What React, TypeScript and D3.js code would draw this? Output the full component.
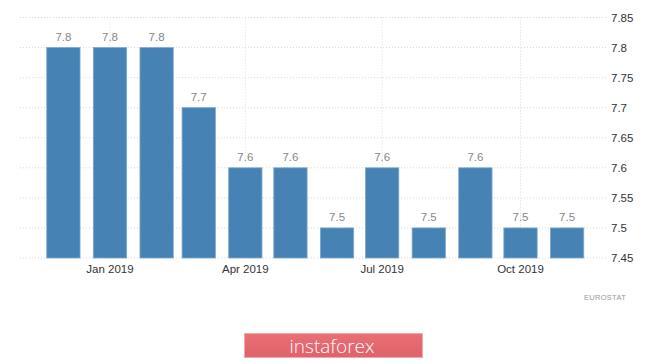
import React from "react";
import * as d3 from "d3";

const months: string[] = ["2018-12-01","2019-01-01","2019-02-01","2019-03-01","2019-04-01","2019-05-01","2019-06-01","2019-07-01","2019-08-01","2019-09-01","2019-10-01","2019-11-01"];
const values: number[] = [7.8, 7.8, 7.8, 7.7, 7.6, 7.6, 7.5, 7.6, 7.5, 7.6, 7.5, 7.5];
const yTicks: number[] = [7.45, 7.5, 7.55, 7.6, 7.65, 7.7, 7.75, 7.8, 7.85];
const xTickDates: string[] = ["2019-01-01", "2019-04-01", "2019-07-01", "2019-10-01"];
const xTickLabels: string[] = ["Jan 2019", "Apr 2019", "Jul 2019", "Oct 2019"];
const source = "EUROSTAT";
const brand = "instaforex";

const parse = (s: string) => {
  const [y, m, d] = s.split("-").map(Number);
  return new Date(y, m - 1, d);
};

export default function App() {
  const W = 665, H = 364;
  const plotLeft = 20, plotRight = 607;
  const x = d3.scaleTime()
    .domain([parse("2019-01-01"), parse("2019-10-01")])
    .range([110, 520.5]);
  const y = d3.scaleLinear().domain([7.45, 7.85]).range([258, 17.5]);
  const barW = 33.3;
  const font = "'Liberation Sans', Arial, sans-serif";

  return (
    <svg width={W} height={H} style={{ position: "absolute", left: 0, top: 0, background: "#fff" }} fontFamily={font}>
      <rect width={W} height={H} fill="#fff" />
      {yTicks.map((t) => (
        <g key={t}>
          <line x1={plotLeft} x2={plotRight} y1={y(t)} y2={y(t)} stroke="#d8d8d8" strokeWidth={1} strokeDasharray="1,2" />
          <text x={611} y={y(t)} dy="0.35em" fontSize={11.5} fill="#333">{String(t)}</text>
        </g>
      ))}
      {xTickDates.map((d, i) => (
        <g key={d}>
          <line x1={x(parse(d))} x2={x(parse(d))} y1={y(7.85)} y2={y(7.45)} stroke="#d8d8d8" strokeWidth={1} strokeDasharray="1,2" />
          <text x={x(parse(d))} y={y(7.45) + 11} dy="0.35em" textAnchor="middle" fontSize={11.5} fill="#333">{xTickLabels[i]}</text>
        </g>
      ))}
      {months.map((m, i) => {
        const cx = x(parse(m));
        return (
          <g key={m}>
            <rect x={cx - barW / 2} y={y(values[i])} width={barW} height={y(7.45) - y(values[i])} fill="#4682b4" stroke="#7ea7cc" strokeWidth={0.8} />
            <text x={cx} y={y(values[i]) - 11} dy="0.35em" textAnchor="middle" fontSize={11.5} fill="#888">{values[i].toFixed(1)}</text>
          </g>
        );
      })}
      <text x={605} y={297} dy="0.35em" textAnchor="middle" fontSize={7.5} fill="#999" letterSpacing={0.3}>{source}</text>
      <defs>
        <linearGradient id="logoGrad" x1="0" y1="0" x2="0" y2="1">
          <stop offset="0" stopColor="#e96f75" />
          <stop offset="1" stopColor="#e0626a" />
        </linearGradient>
      </defs>
      <rect x={244.5} y={333.5} width={178} height={24} fill="url(#logoGrad)" stroke="#f0a8ab" strokeWidth={1} />
      <text x={332} y={346} dy="0.35em" textAnchor="middle" fontSize={19} fill="#fff" fontFamily="'Open Sans', 'Noto Sans', sans-serif" fontWeight={300}>{brand}</text>
    </svg>
  );
}
